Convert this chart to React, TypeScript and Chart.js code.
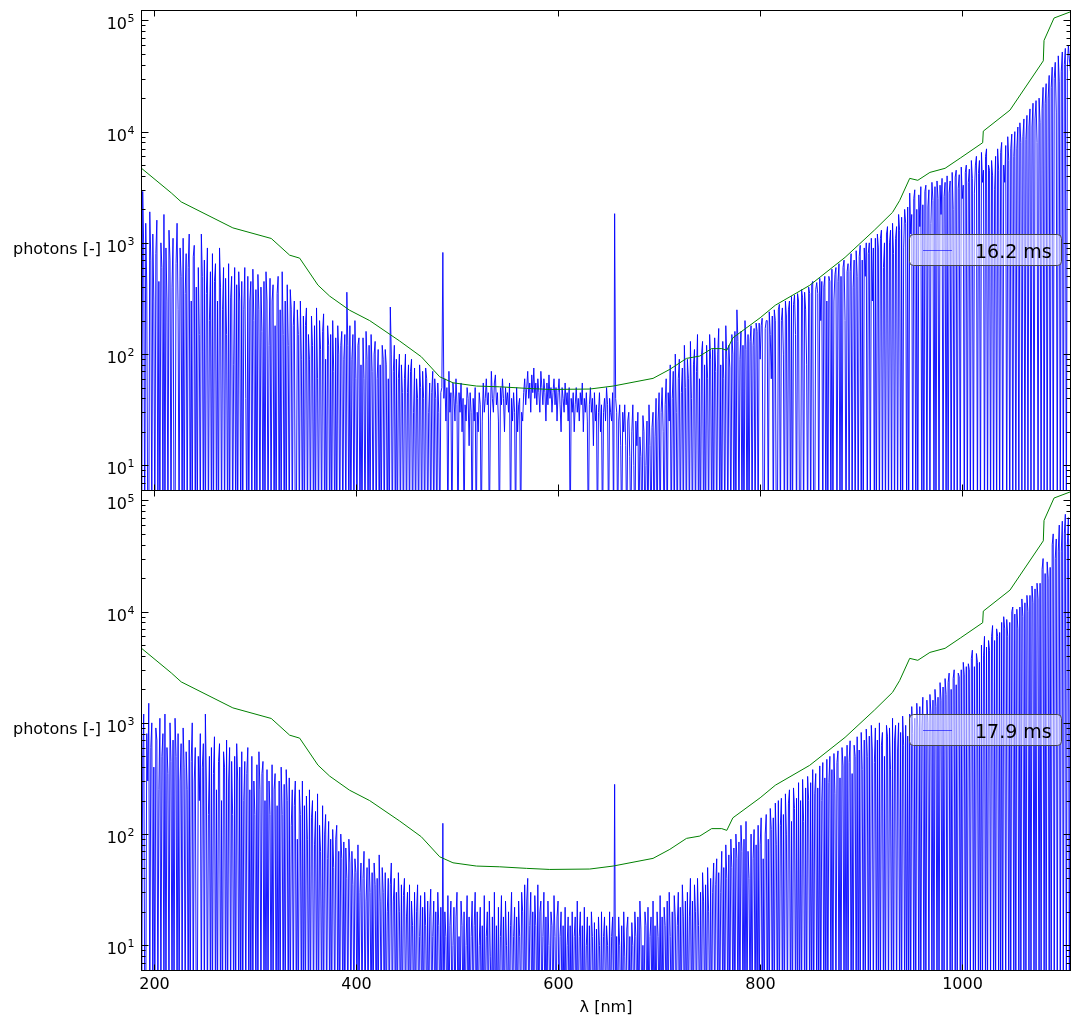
import React, { useEffect, useRef } from "react";
import { Chart, registerables } from "chart.js";

Chart.register(...registerables);

// ---------------- data ----------------
const WAVELENGTH_START = 187;
const WAVELENGTH_STEP = 1;

const PHOTONS_16_2MS = [
  600, 2, 2900, 900, 2, 1500, 400, 2, 2, 1900,
  700, 2, 1200, 300, 2, 800, 1600, 2, 450, 2,
  1000, 600, 2, 1800, 2, 900, 300, 2, 1300, 700,
  2, 400, 1100, 2, 2, 650, 1500, 250, 2, 900,
  500, 2, 1100, 2, 350, 800, 2, 600, 1200, 2,
  300, 2, 750, 950, 2, 400, 2, 600, 150, 2,
  1200, 500, 2, 700, 2, 350, 900, 2, 200, 550,
  2, 800, 2, 450, 650, 2, 300, 2, 900, 400,
  2, 250, 600, 2, 480, 150, 2, 650, 2, 320,
  500, 2, 80, 600, 2, 420, 2, 550, 300, 2,
  450, 2, 250, 600, 40, 2, 500, 2, 300, 450,
  2, 580, 200, 2, 380, 2, 520, 250, 2, 400,
  160, 2, 450, 2, 550, 300, 2, 120, 480, 2,
  300, 420, 2, 180, 2, 350, 500, 2, 250, 2,
  550, 150, 2, 300, 2, 420, 120, 2, 380, 250,
  2, 180, 300, 2, 2, 250, 150, 2, 300, 90,
  2, 220, 2, 180, 260, 2, 150, 90, 2, 220,
  120, 2, 180, 2, 260, 60, 2, 200, 110, 2,
  160, 230, 2, 90, 2, 180, 120, 2, 150, 2,
  200, 70, 2, 140, 2, 180, 100, 2, 120, 160,
  2, 90, 150, 2, 360, 120, 2, 180, 2, 90,
  150, 2, 200, 60, 2, 120, 140, 2, 80, 2,
  140, 60, 2, 160, 90, 2, 120, 2, 150, 70,
  2, 100, 130, 2, 60, 110, 2, 80, 2, 120,
  90, 2, 110, 80, 2, 60, 2, 265, 100, 2,
  70, 120, 2, 90, 2, 60, 100, 2, 80, 45,
  2, 60, 100, 2, 45, 80, 2, 70, 90, 2,
  30, 75, 2, 60, 40, 2, 80, 50, 2, 70,
  40, 2, 75, 60, 2, 30, 55, 2, 45, 70,
  2, 60, 40, 2, 55, 30, 2, 45, 50, 820,
  40, 60, 25, 50, 2, 70, 30, 45, 2, 55,
  40, 25, 60, 35, 2, 45, 30, 55, 20, 40,
  2, 35, 25, 50, 40, 15, 45, 30, 2, 40,
  25, 50, 2, 30, 20, 45, 35, 2, 25, 55,
  30, 40, 60, 35, 45, 2, 25, 70, 40, 30,
  55, 65, 35, 45, 25, 2, 50, 35, 60, 40,
  20, 50, 35, 45, 30, 55, 2, 40, 25, 45,
  30, 2, 50, 20, 35, 40, 2, 30, 25, 45,
  60, 35, 50, 70, 40, 55, 30, 65, 45, 75,
  40, 55, 35, 60, 45, 30, 70, 50, 35, 60,
  45, 25, 55, 35, 65, 40, 50, 30, 45, 60,
  35, 50, 25, 45, 60, 35, 20, 50, 40, 30,
  55, 35, 45, 25, 50, 2, 40, 30, 45, 20,
  35, 50, 30, 40, 25, 45, 35, 55, 20, 40,
  30, 45, 25, 2, 35, 50, 30, 40, 15, 45,
  25, 35, 2, 30, 45, 20, 35, 2, 30, 40,
  25, 50, 35, 2, 40, 30, 25, 45, 2, 1830,
  40, 30, 2, 25, 35, 15, 2, 30, 20, 35,
  15, 2, 25, 30, 12, 2, 20, 35, 10, 2,
  25, 15, 30, 2, 18, 12, 2, 28, 20, 2,
  10, 25, 2, 35, 15, 2, 22, 30, 2, 18,
  40, 2, 25, 45, 2, 30, 50, 20, 2, 35,
  60, 2, 45, 25, 80, 2, 40, 70, 2, 100,
  30, 2, 60, 90, 2, 45, 75, 2, 120, 50,
  2, 90, 60, 2, 130, 40, 2, 80, 110, 2,
  70, 150, 2, 60, 2, 100, 130, 2, 80, 2,
  120, 60, 2, 150, 90, 2, 110, 2, 140, 70,
  2, 100, 170, 2, 80, 2, 130, 60, 2, 180,
  90, 2, 120, 75, 2, 150, 100, 2, 160, 2,
  250, 130, 2, 90, 160, 2, 120, 2, 200, 110,
  2, 150, 2, 130, 180, 2, 120, 170, 2, 190,
  160, 2, 190, 90, 180, 210, 2, 2, 170, 200,
  200, 2, 240, 150, 60, 220, 2, 250, 200, 2,
  2, 250, 280, 2, 200, 260, 100, 2, 300, 220,
  2, 250, 300, 2, 330, 2, 280, 340, 150, 2,
  350, 300, 2, 2, 380, 320, 2, 360, 250, 80,
  2, 400, 350, 2, 420, 450, 2, 2, 380, 440,
  350, 2, 480, 200, 450, 2, 400, 500, 2, 300,
  2, 500, 450, 2, 580, 2, 300, 520, 600, 2,
  450, 650, 2, 500, 2, 600, 700, 200, 2, 550,
  650, 2, 550, 800, 2, 400, 700, 2, 850, 500,
  2, 750, 950, 2, 700, 2, 900, 500, 1000, 2,
  800, 1000, 2, 1100, 300, 900, 2, 1100, 2, 1200,
  900, 2, 1100, 1300, 2, 600, 1000, 2, 1200, 1400,
  2, 1000, 1300, 2, 1500, 800, 2, 1100, 1400, 2,
  1800, 1300, 2, 1700, 2, 900, 2000, 1500, 2, 2100,
  2, 2800, 1200, 1800, 2, 2500, 3000, 2, 2000, 2,
  2700, 1400, 3200, 2, 2200, 2, 2900, 3300, 2, 2100,
  3000, 2, 1500, 3500, 2400, 2, 3200, 2, 3600, 2500,
  2, 3300, 1800, 3800, 2, 2600, 3500, 2, 4000, 2,
  2800, 3600, 2, 4300, 2000, 2, 3900, 4500, 2, 3100,
  4100, 2, 4800, 2500, 3300, 2, 4300, 5000, 2, 3500,
  4600, 2, 5500, 3800, 2, 2800, 5000, 6000, 2, 4200,
  5500, 2, 6500, 3500, 4500, 2, 6000, 7000, 2, 5000,
  4500, 2, 5500, 4000, 2, 3000, 6000, 2, 7000, 4500,
  2, 6500, 8000, 2, 5000, 3500, 7500, 2, 9000, 5500,
  2, 7000, 9500, 2, 6000, 10000, 2, 7000, 11000, 2,
  12000, 8000, 2, 9000, 13000, 2, 8500, 14000, 2, 11000,
  16000, 2, 11000, 18000, 2, 13000, 19000, 8000, 2, 20000,
  12000, 2, 16000, 25000, 2, 18000, 27000, 2, 20000, 32000,
  2, 25000, 38000, 2, 30000, 42000, 15000, 2, 48000, 28000,
  2, 35000, 52000, 2, 40000, 56000, 2, 38000, 60000, 45000,
  35000,
];

const PHOTONS_17_9MS = [
  2000, 2, 500, 1200, 2, 2, 800, 300, 1500, 2,
  600, 1000, 2, 400, 2, 900, 700, 2, 250, 1100,
  2, 500, 800, 2, 1200, 2, 600, 350, 2, 1000,
  450, 2, 700, 2, 1100, 500, 2, 800, 2, 300,
  650, 2, 900, 400, 2, 550, 250, 2, 700, 2,
  450, 1000, 2, 300, 600, 2, 2, 500, 200, 800,
  2, 400, 650, 2, 1200, 300, 2, 150, 500, 2,
  600, 2, 350, 750, 2, 250, 2, 450, 650, 2,
  200, 2, 550, 400, 2, 700, 2, 300, 600, 2,
  450, 150, 2, 500, 2, 650, 300, 2, 400, 2,
  550, 2, 200, 450, 2, 350, 600, 2, 250, 2,
  500, 2, 300, 150, 2, 420, 2, 550, 250, 2,
  350, 450, 2, 200, 2, 380, 2, 300, 150, 2,
  420, 2, 250, 350, 2, 180, 2, 300, 2, 400,
  150, 2, 280, 2, 380, 200, 2, 320, 2, 120,
  250, 2, 180, 300, 2, 90, 2, 250, 150, 2,
  300, 2, 180, 2, 220, 90, 2, 250, 2, 140,
  200, 2, 80, 160, 2, 230, 2, 120, 70, 2,
  180, 2, 100, 150, 2, 60, 130, 2, 90, 2,
  110, 50, 2, 90, 120, 2, 70, 2, 100, 60,
  2, 85, 2, 75, 40, 2, 90, 55, 2, 70,
  35, 2, 60, 45, 2, 80, 2, 30, 55, 2,
  40, 70, 2, 25, 50, 2, 60, 30, 2, 45,
  2, 55, 35, 2, 40, 2, 65, 25, 2, 50,
  30, 2, 45, 2, 20, 40, 2, 35, 55, 2,
  25, 40, 2, 30, 2, 45, 20, 2, 35, 2,
  28, 40, 2, 18, 30, 2, 35, 2, 25, 15,
  2, 30, 2, 20, 35, 2, 12, 28, 2, 22,
  2, 30, 15, 2, 25, 2, 18, 32, 2, 12,
  25, 2, 20, 2, 30, 15, 2, 22, 2, 125,
  2, 20, 12, 2, 28, 2, 15, 25, 2, 10,
  22, 2, 18, 30, 2, 12, 2, 25, 15, 2,
  20, 2, 10, 28, 2, 18, 2, 12, 25, 2,
  15, 30, 2, 20, 2, 10, 22, 2, 15, 2,
  28, 2, 12, 20, 2, 25, 8, 2, 18, 2,
  30, 2, 15, 2, 22, 2, 12, 28, 2, 18,
  2, 25, 10, 2, 20, 2, 15, 30, 2, 12,
  22, 2, 18, 2, 25, 12, 2, 30, 20, 2,
  35, 2, 25, 40, 2, 15, 30, 2, 20, 2,
  28, 15, 2, 35, 2, 20, 25, 2, 12, 30,
  2, 18, 2, 25, 10, 2, 20, 15, 2, 28,
  12, 2, 18, 25, 2, 12, 20, 2, 15, 2,
  22, 2, 10, 18, 2, 15, 2, 20, 2, 12,
  18, 2, 25, 2, 12, 20, 2, 15, 2, 22,
  2, 10, 18, 2, 15, 2, 20, 12, 2, 16,
  2, 14, 2, 18, 10, 2, 20, 2, 12, 18,
  2, 15, 10, 2, 20, 2, 12, 18, 2, 280,
  2, 12, 2, 18, 10, 2, 15, 2, 20, 8,
  2, 14, 18, 2, 12, 2, 16, 10, 2, 20,
  12, 2, 18, 2, 25, 14, 2, 10, 2, 20,
  15, 2, 22, 2, 12, 18, 2, 25, 2, 15,
  2, 20, 12, 2, 28, 2, 18, 2, 22, 15,
  2, 25, 2, 30, 12, 2, 20, 2, 28, 18,
  2, 15, 30, 2, 22, 2, 35, 18, 2, 25,
  2, 30, 2, 18, 40, 2, 25, 2, 35, 20,
  2, 40, 15, 2, 30, 2, 45, 25, 2, 35,
  2, 50, 20, 2, 40, 2, 30, 55, 2, 35,
  60, 2, 45, 2, 30, 70, 2, 50, 2, 80,
  40, 2, 65, 2, 90, 50, 2, 75, 2, 100,
  60, 2, 85, 2, 120, 70, 2, 90, 2, 130,
  2, 70, 40, 2, 100, 2, 60, 110, 2, 80,
  2, 120, 2, 80, 140, 2, 60, 2, 100, 150,
  2, 90, 2, 170, 110, 2, 140, 2, 190, 80,
  2, 200, 2, 120, 210, 2, 150, 2, 230, 100,
  2, 190, 250, 2, 130, 2, 260, 170, 2, 210,
  2, 290, 2, 200, 2, 310, 130, 2, 260, 2,
  330, 200, 2, 290, 2, 380, 2, 230, 350, 2,
  260, 2, 410, 2, 200, 440, 2, 320, 2, 470,
  2, 290, 500, 2, 380, 2, 530, 230, 2, 440,
  560, 2, 320, 2, 600, 410, 2, 500, 2, 630,
  2, 440, 690, 2, 350, 2, 630, 500, 2, 750,
  2, 570, 2, 820, 380, 2, 700, 2, 880, 500,
  2, 760, 2, 950, 570, 2, 440, 900, 2, 700,
  2, 1000, 2, 630, 820, 2, 500, 2, 950, 760,
  2, 900, 380, 2, 1100, 2, 700, 950, 2, 570,
  1000, 2, 820, 2, 1150, 630, 2, 950, 2, 760,
  2, 1200, 2, 1400, 800, 2, 1100, 2, 1500, 900,
  2, 1400, 2, 900, 1700, 2, 1200, 2, 1600, 1000,
  2, 1800, 1200, 2, 1600, 2, 2000, 1400, 2, 1700,
  2, 2300, 1600, 2, 2100, 2, 2500, 1800, 2, 2300,
  2800, 2, 2000, 2, 2500, 3000, 2, 2200, 2, 2800,
  2600, 2, 3000, 2, 3500, 2700, 2, 3200, 2, 3400,
  3000, 2, 3800, 4500, 2, 3200, 2, 4200, 3500, 2,
  3500, 2, 5000, 2, 4000, 6000, 2, 4800, 2, 5500,
  4500, 2, 6000, 7500, 2, 5500, 2, 7000, 6000, 2,
  6500, 2, 8000, 2, 9000, 7000, 2, 8500, 6000, 2,
  8000, 2, 10000, 11000, 2, 9500, 2, 10500, 7000, 2,
  11000, 2, 13000, 9000, 2, 12000, 2, 14000, 10000, 2,
  14000, 2, 17000, 12000, 2, 16000, 2, 18000, 13000, 2,
  18000, 2, 24000, 30000, 2, 22000, 2, 28000, 20000, 2,
  25000, 2, 40000, 50000, 2, 30000, 45000, 2, 35000, 60000,
  2, 35000, 65000, 2, 50000, 75000, 2, 40000, 70000, 2,
  45000,
];

const THRESHOLD_NM = [
  187.3, 217.3, 227.1, 278.2, 316.2, 334.4, 344.3, 362.4, 374, 393.7,
  413.6, 443.3, 464.7, 482.9, 496, 519.2, 542.3, 568.7, 591.8, 631.4,
  654.5, 694, 710.6, 727.1, 740.3, 752, 762, 767, 773, 800,
  815, 849, 884, 913, 931, 938, 948, 956, 968, 983,
  998, 1020.2, 1020.8, 1047.2, 1080.2, 1080.9, 1090.8, 1106.6,
];
const THRESHOLD_PHOTONS = [
  4720, 2810, 2335, 1364, 1095, 775, 729, 417, 332, 248,
  200, 131, 94.6, 62.5, 55.2, 51.6, 50.8, 49.2, 48.1, 48.5,
  51.6, 60.5, 72.9, 91.5, 96, 112, 112, 108, 140, 212,
  275, 415, 740, 1300, 1880, 2400, 3800, 3650, 4300, 4680,
  5780, 7950, 10100, 15600, 43300, 66000, 105000, 119000,
];

const SERIES_LABELS = ["16.2 ms", "17.9 ms"];
const X_TICKS = [200, 400, 600, 800, 1000];
const Y_EXPONENTS = [0, 1, 2, 3, 4, 5];
const X_MIN = 187.3;
const X_MAX = 1107.6;
const Y_MIN = 6.0;
const Y_MAX = 1.24e5;
const Y_TITLE = "photons [-]";
const X_TITLE = "λ [nm]";

// ---------------- drawing helpers ----------------
const FONT = "'DejaVu Sans', 'Liberation Sans', sans-serif";

function makeAxesPlugin(showXLabels: boolean) {
  return {
    id: "mplAxes",
    afterDraw(chart: any) {
      const { ctx, chartArea: a, scales } = chart;
      const x = scales.x;
      const y = scales.y;
      ctx.save();
      ctx.strokeStyle = "#000";
      ctx.fillStyle = "#000";
      ctx.lineWidth = 1;

      const seg = (x1: number, y1: number, x2: number, y2: number) => {
        ctx.beginPath();
        ctx.moveTo(x1, y1);
        ctx.lineTo(x2, y2);
        ctx.stroke();
      };

      // frame
      const L = Math.round(a.left) + 0.5;
      const R = Math.round(a.right) - 0.5;
      const T = Math.round(a.top) + 0.5;
      const B = Math.round(a.bottom) + 0.5;
      ctx.strokeRect(L, T, R - L, B - T);

      // x ticks (inward, top and bottom)
      ctx.font = `16px ${FONT}`;
      for (const v of X_TICKS) {
        const px = Math.round(x.getPixelForValue(v)) + 0.5;
        seg(px, B, px, B - 6);
        seg(px, T, px, T + 6);
        if (showXLabels) {
          ctx.textAlign = "center";
          ctx.textBaseline = "alphabetic";
          ctx.fillText(String(v), px, B + 18);
        }
      }

      // y ticks (inward, left and right) with log minor ticks
      for (const e of Y_EXPONENTS) {
        for (let m = 1; m <= 9; m++) {
          const v = m * Math.pow(10, e);
          if (v < y.min || v > y.max) continue;
          const py = Math.round(y.getPixelForValue(v)) + 0.5;
          const len = m === 1 ? 7 : 4;
          seg(L, py, L + len, py);
          seg(R, py, R - len, py);
          if (m === 1) {
            const sup = String(e);
            ctx.font = `11px ${FONT}`;
            const supW = ctx.measureText(sup).width;
            ctx.font = `16px ${FONT}`;
            const baseW = ctx.measureText("10").width;
            const right = L - 7;
            ctx.textAlign = "left";
            ctx.textBaseline = "alphabetic";
            ctx.fillText("10", right - supW - baseW - 0.5, py + 8);
            ctx.font = `11px ${FONT}`;
            ctx.fillText(sup, right - supW, py + 1.5);
            ctx.font = `16px ${FONT}`;
          }
        }
      }

      // y title
      ctx.font = `16px ${FONT}`;
      ctx.textAlign = "right";
      ctx.textBaseline = "alphabetic";
      ctx.fillText(Y_TITLE, 101, (a.top + a.bottom) / 2 + 4);

      // x title
      if (showXLabels) {
        ctx.textAlign = "center";
        ctx.fillText(X_TITLE, (a.left + a.right) / 2, B + 41);
      }

      // legend
      const ds = chart.data.datasets[1];
      const bx = 909.5;
      const by = a.top + 224.5;
      const bw = 152;
      const bh = 31;
      const r = 4;
      ctx.beginPath();
      ctx.moveTo(bx + r, by);
      ctx.lineTo(bx + bw - r, by);
      ctx.arcTo(bx + bw, by, bx + bw, by + r, r);
      ctx.lineTo(bx + bw, by + bh - r);
      ctx.arcTo(bx + bw, by + bh, bx + bw - r, by + bh, r);
      ctx.lineTo(bx + r, by + bh);
      ctx.arcTo(bx, by + bh, bx, by + bh - r, r);
      ctx.lineTo(bx, by + r);
      ctx.arcTo(bx, by, bx + r, by, r);
      ctx.closePath();
      ctx.fillStyle = "rgba(255,255,255,0.55)";
      ctx.fill();
      ctx.strokeStyle = "#444";
      ctx.lineWidth = 1;
      ctx.stroke();

      ctx.strokeStyle = ds.borderColor;
      ctx.lineWidth = 0.6;
      seg(923, by + 16, 952, by + 16);

      ctx.fillStyle = "#000";
      ctx.font = `19px ${FONT}`;
      ctx.textAlign = "left";
      ctx.textBaseline = "alphabetic";
      ctx.fillText(ds.label, 975, by + 23);

      ctx.restore();
    },
  };
}

function buildConfig(values: number[], label: string, padding: any, showXLabels: boolean) {
  const spectrum = values.map((v, i) => ({ x: WAVELENGTH_START + i * WAVELENGTH_STEP, y: v }));
  const threshold = THRESHOLD_NM.map((nm, i) => ({ x: nm, y: THRESHOLD_PHOTONS[i] }));
  return {
    type: "line",
    data: {
      datasets: [
        {
          label: "threshold",
          data: threshold,
          borderColor: "#008000",
          borderWidth: 1,
          pointRadius: 0,
          tension: 0,
          fill: false,
        },
        {
          label,
          data: spectrum,
          borderColor: "#0000ff",
          borderWidth: 0.9,
          pointRadius: 0,
          tension: 0,
          fill: false,
        },
      ],
    },
    options: {
      animation: false,
      responsive: false,
      events: [],
      layout: { padding },
      plugins: { legend: { display: false }, tooltip: { enabled: false } },
      scales: {
        x: { type: "linear", min: X_MIN, max: X_MAX, display: false },
        y: { type: "logarithmic", min: Y_MIN, max: Y_MAX, display: false },
      },
    },
    plugins: [makeAxesPlugin(showXLabels)],
  };
}

export default function App() {
  const topRef = useRef<HTMLCanvasElement>(null);
  const bottomRef = useRef<HTMLCanvasElement>(null);

  useEffect(() => {
    const top = new Chart(
      topRef.current as HTMLCanvasElement,
      buildConfig(PHOTONS_16_2MS, SERIES_LABELS[0], { left: 141, top: 10, right: 11, bottom: 537 }, false) as any
    );
    const bottom = new Chart(
      bottomRef.current as HTMLCanvasElement,
      buildConfig(PHOTONS_17_9MS, SERIES_LABELS[1], { left: 141, top: 490, right: 11, bottom: 57 }, true) as any
    );
    return () => {
      top.destroy();
      bottom.destroy();
    };
  }, []);

  const canvasStyle: React.CSSProperties = { position: "absolute", left: 0, top: 0, width: 1082, height: 1027 };
  return (
    <div style={{ position: "absolute", left: 0, top: 0, width: 1082, height: 1027, background: "#fff" }}>
      <canvas ref={topRef} width={1082} height={1027} style={canvasStyle} />
      <canvas ref={bottomRef} width={1082} height={1027} style={canvasStyle} />
    </div>
  );
}
